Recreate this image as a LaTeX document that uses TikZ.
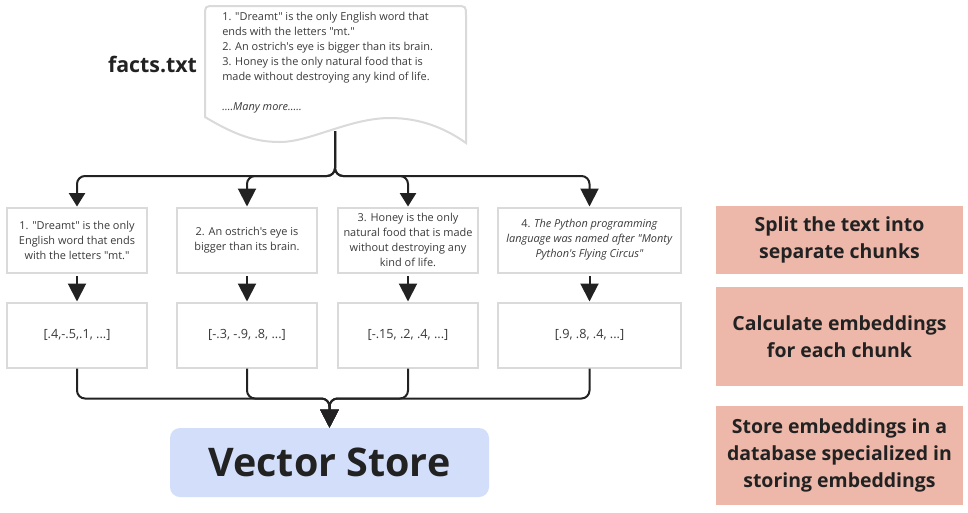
\documentclass[tikz,border=0pt]{standalone}
\usepackage{fontspec}
\setmainfont{Open Sans}[Ligatures=TeXOff]
\usetikzlibrary{arrows.meta}
\definecolor{ink}{HTML}{222222}
\definecolor{txt}{HTML}{3A3A3A}
\definecolor{edge}{HTML}{DADADA}
\definecolor{salmon}{HTML}{EDB8AA}
\definecolor{vsblue}{HTML}{D3DFFA}
\begin{document}
\begin{tikzpicture}[x=0.75pt,y=-0.75pt,
  chunk/.style={draw=edge, line width=1.5pt, fill=white, minimum height=48.75pt,
    minimum width=105pt, align=center, text=txt, inner sep=1pt,
    font=\fontsize{8.2}{11.25}\selectfont},
  emb/.style={chunk, font=\fontsize{9.5}{11}\selectfont},
  stepnote/.style={fill=salmon, minimum width=185.25pt, align=center, text=ink,
    font=\bfseries\fontsize{14.6}{20.25}\selectfont},
  conn/.style={draw=ink, line width=1.5pt, rounded corners=6pt},
  bigtip/.style={-{Triangle[length=13.5pt,width=13.5pt]}},
  smalltip/.style={-{Triangle[length=10pt,width=12pt]}}
]
\useasboundingbox (0,0) rectangle (968,512);
\fill[white] (0,0) rectangle (968,512);

% document shape
\draw[draw=edge, line width=1.5pt, fill=white]
  (205,117) -- (205,16) .. controls (205,6) .. (215,6) -- (456,6)
  .. controls (466,6) .. (466,16) -- (466,143)
  .. controls (445,128) and (420,118) .. (390,118)
  .. controls (350,118) and (310,142) .. (280,142)
  .. controls (255,142) and (235,135) .. (205,117) -- cycle;
\node[anchor=west, align=left, text=txt, inner sep=0pt,
  font=\fontsize{8.2}{11.25}\selectfont] (doctext) at (222,63)
  {1. "Dreamt" is the only English word that\\
   ends with the letters "mt."\\
   2. An ostrich's eye is bigger than its brain.\\
   3. Honey is the only natural food that is\\
   made without destroying any kind of life.\\[11.25pt]
   \textit{....Many more.....}};
\node[font=\bfseries\fontsize{16}{18}\selectfont, text=ink] (facts) at (152.5,64) {facts.txt};
\coordinate (docb) at (335,131);

% chunk boxes
\node[chunk] (b1) at (77,240) {1. "Dreamt" is the only\\English word that ends\\with the letters "mt."};
\node[chunk] (b2) at (247,240) {2. An ostrich's eye is\\bigger than its brain.};
\node[chunk] (b3) at (408,240) {3. Honey is the only\\natural food that is made\\without destroying any\\kind of life.};
\node[chunk, minimum width=137.25pt] (b4) at (589.5,240) {4. \textit{The Python programming}\\\textit{language was named after "Monty}\\\textit{Python's Flying Circus"}};

% embedding boxes
\node[emb] (c1) at (77,335) {[.4,-.5,.1, ...]};
\node[emb] (c2) at (247,335) {[-.3, -.9, .8, ...]};
\node[emb] (c3) at (408,335) {[-.15, .2, .4, ...]};
\node[emb, minimum width=137.25pt] (c4) at (589.5,335) {[.9, .8, .4, ...]};

% vector store
\node[fill=vsblue, rounded corners=7.5pt, minimum width=239.25pt, minimum height=51.75pt,
  text=ink, font=\bfseries\fontsize{29.6}{34}\selectfont] (vs) at (329.5,462.5) {Vector Store};

% step notes
\node[stepnote, minimum height=51pt] (n1) at (839.5,240) {Split the text into\\separate chunks};
\node[stepnote, minimum height=74.25pt] (n2) at (839.5,336.5) {Calculate embeddings\\for each chunk};
\node[stepnote, minimum height=74.25pt] (n3) at (839.5,455.5) {Store embeddings in a\\database specialized in\\storing embeddings};

% connectors: file to chunks
\draw[conn, smalltip] (docb) -- ++(0,45) -| (b1.north);
\draw[conn, bigtip] (docb) -- ++(0,45) -| (b2.north);
\draw[conn, smalltip] (docb) -- ++(0,45) -| (b3.north);
\draw[conn, bigtip] (docb) -- ++(0,45) -| (b4.north);

% chunks to embeddings
\draw[conn, bigtip] ([yshift=-2pt]b1.south) -- (c1.north);
\draw[conn, bigtip] ([yshift=-2pt]b2.south) -- (c2.north);
\draw[conn, bigtip] ([yshift=-2pt]b3.south) -- (c3.north);
\draw[conn, bigtip] ([yshift=-2pt]b4.south) -- (c4.north);

% embeddings to vector store
\draw[conn, bigtip] (c1.south) -- ++(0,30) -| (vs.north);
\draw[conn, bigtip] (c2.south) -- ++(0,30) -| (vs.north);
\draw[conn, bigtip] (c3.south) -- ++(0,30) -| (vs.north);
\draw[conn, bigtip] (c4.south) -- ++(0,30) -| (vs.north);
\end{tikzpicture}
\end{document}
